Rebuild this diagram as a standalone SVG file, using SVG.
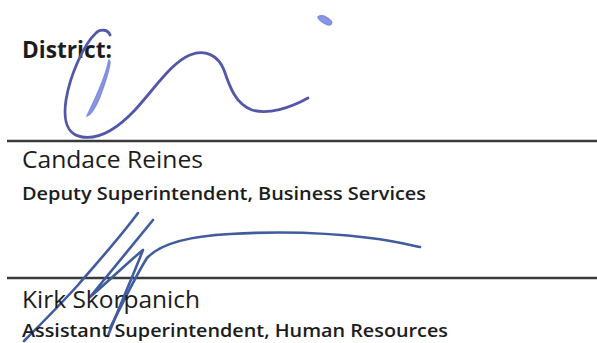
<svg xmlns="http://www.w3.org/2000/svg" width="597" height="343" viewBox="0 0 597 343">
<style>
.t{font-family:"Open Sans","Liberation Sans",sans-serif;fill:#1c1c1c}
.b{font-weight:700}
.m{font-weight:600}
.rule{stroke:#3a3a3a;stroke-width:2.5;fill:none}
.sig1{fill:none;stroke:#5257a8;stroke-width:2.8;stroke-linecap:round;stroke-linejoin:round}
.sig1l{fill:#8a98e4;stroke:#7f8ee0;stroke-width:1.6;stroke-linecap:round;stroke-linejoin:round}
.sig2{fill:none;stroke:#405c9c;stroke-width:2.6;stroke-linecap:round;stroke-linejoin:round}
</style>
<rect width="597" height="343" fill="#fff"/>
<g id="rules">
<line class="rule" x1="7" y1="141" x2="597" y2="141"/>
<line class="rule" x1="7" y1="278" x2="597" y2="278"/>
</g>
<g id="district">
<text class="t b" x="22" y="58" font-size="23" textLength="90" lengthAdjust="spacingAndGlyphs">District:</text>
</g>
<g id="signature1">
<path class="sig1" d="M110,35 C108,29 100,29 96,33 C84,44 70,75 66,100 C63,120 66,134 82,137 C100,140 118,128 135,110 C155,88 172,62 190,55 C205,49 218,55 224,70 C230,88 236,104 252,110 C268,115 290,108 308,98"/>
<path class="sig1l" d="M109,60 C106,75 96,98 87,116 C91,115 95,108 99,99 C104,86 109,72 110,62 Z"/>
<path class="sig1l" d="M318,17 C322,14 327,17 331,21 C333,24 330,26 326,24 C322,22 319,20 318,17 Z"/>
</g>
<g id="candace">
<text class="t" x="22" y="168" font-size="23" textLength="181" lengthAdjust="spacingAndGlyphs">Candace Reines</text>
<text class="t m" x="22" y="200" font-size="17.5" textLength="404" lengthAdjust="spacingAndGlyphs">Deputy Superintendent, Business Services</text>
</g>
<g id="signature2">
<path class="sig2" d="M138,213 C118,240 95,265 78,285 C60,305 40,325 24,341"/>
<path class="sig2" d="M153,220 C130,248 108,275 90,297 C108,282 128,262 143,250 C132,278 118,310 108,336"/>
<path class="sig2" d="M110,328 C122,305 136,275 147,258 C160,244 190,236 230,234 C280,231 330,233 370,238 C395,241 410,245 420,247"/>
</g>
<g id="kirk">
<text class="t" x="22" y="308" font-size="24" textLength="178" lengthAdjust="spacingAndGlyphs">Kirk Skorpanich</text>
<text class="t m" x="22" y="337" font-size="17.5" textLength="426" lengthAdjust="spacingAndGlyphs">Assistant Superintendent, Human Resources</text>
</g>
</svg>
